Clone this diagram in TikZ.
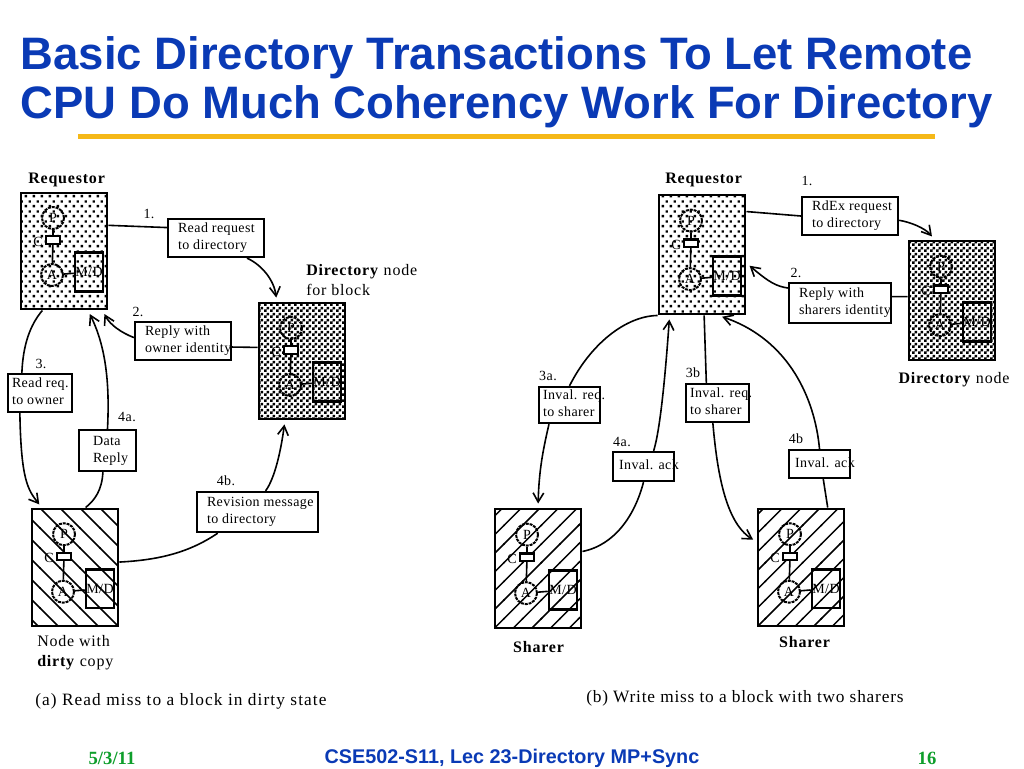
\documentclass[tikz,border=0pt]{standalone}
\usepackage{fontspec}
\setmainfont[LetterSpace=3]{Liberation Serif}
\newfontfamily\titlefont{Liberation Sans}
\newfontfamily\footfont{Liberation Serif}
\usepackage{xcolor}
\usetikzlibrary{
  arrows.meta,
  patterns
}
\definecolor{slideBlue}{HTML}{0A3AB5}
\definecolor{slideGold}{HTML}{F5B818}
\definecolor{slideGreen}{HTML}{0E9E2B}

% block fills
\pgfdeclarepatternformonly{blockdots}{\pgfqpoint{0pt}{0pt}}{\pgfqpoint{6.2pt}{7.5pt}}{\pgfqpoint{6.2pt}{7.5pt}}{
  \pgfpathrectangle{\pgfqpoint{0.6pt}{0.6pt}}{\pgfqpoint{1.9pt}{1.9pt}}
  \pgfpathrectangle{\pgfqpoint{3.7pt}{4.35pt}}{\pgfqpoint{1.9pt}{1.9pt}}
  \pgfusepath{fill}
}
\pgfdeclarepatternformonly{blockcheck}{\pgfqpoint{0pt}{0pt}}{\pgfqpoint{4.5pt}{4.5pt}}{\pgfqpoint{4.5pt}{4.5pt}}{
  \pgfpathrectangle{\pgfqpoint{0pt}{0pt}}{\pgfqpoint{2.25pt}{2.25pt}}
  \pgfpathrectangle{\pgfqpoint{2.25pt}{2.25pt}}{\pgfqpoint{2.25pt}{2.25pt}}
  \pgfusepath{fill}
}
\pgfdeclarepatternformonly{blockne}{\pgfqpoint{-1pt}{-1pt}}{\pgfqpoint{15pt}{15pt}}{\pgfqpoint{14pt}{14pt}}{
  \pgfsetlinewidth{1.1pt}
  \pgfpathmoveto{\pgfqpoint{-0.5pt}{-0.5pt}}
  \pgfpathlineto{\pgfqpoint{14.5pt}{14.5pt}}
  \pgfusepath{stroke}
}
\pgfdeclarepatternformonly{blocknw}{\pgfqpoint{-1pt}{-1pt}}{\pgfqpoint{16pt}{16pt}}{\pgfqpoint{15pt}{15pt}}{
  \pgfsetlinewidth{1.1pt}
  \pgfpathmoveto{\pgfqpoint{-0.5pt}{15.5pt}}
  \pgfpathlineto{\pgfqpoint{15.5pt}{-0.5pt}}
  \pgfusepath{stroke}
}

\newcommand{\msgfont}{\fontsize{10.5}{12.7}\selectfont}
\tikzset{
  blockframe/.style={draw, line width=2.2pt, minimum width=64.5pt, inner sep=0pt},
  cpucircle/.style={draw, circle, dash pattern=on 2.2pt off 0.7pt, line width=1.5pt, minimum size=16.5pt, inner sep=0pt, font=\fontsize{10.5}{10.5}\selectfont},
  cachebox/.style={draw, line width=1.6pt, fill=white, minimum width=10.5pt, minimum height=5.5pt, inner sep=0pt},
  membox/.style={draw, line width=1.9pt, minimum width=21pt, minimum height=29pt, inner sep=0pt, font=\fontsize{10.5}{10.5}\selectfont},
  partlink/.style={line width=1.2pt},
  msgbox/.style={draw, line width=1.7pt, fill=white, inner sep=0pt, font=\msgfont},
  steplabel/.style={font=\msgfont},
  capfont/.style={font=\fontsize{12}{15}\selectfont\addfontfeature{LetterSpace=5}},
  msgline/.style={line width=1.2pt},
  msgarrow/.style={line width=1.2pt, shorten >=3pt, -{Straight Barb[length=2.4mm,width=2.8mm]}}
}
\newcommand{\msgnode}[7]{% name, left, top, right, bottom, pad, text
  \node[msgbox, minimum width={(#4-#2)*0.75pt}, minimum height={(#5-#3)*0.75pt}] (#1) at ({(#2+#4)/2},{(#3+#5)/2})
    {\makebox[\dimexpr(#4pt-#2pt)*3/4\relax][l]{\hspace*{\dimexpr#6pt*3/4\relax}\begin{tabular}{@{}l@{}}#7\end{tabular}}};
}

\begin{document}
\begin{tikzpicture}[x=0.75pt,y=-0.75pt]
  \useasboundingbox (0,0) rectangle (1024,768);

  % title
  \node[anchor=base west, inner sep=0pt, text=slideBlue, font=\titlefont\bfseries\fontsize{34.1}{36}\selectfont] (titleA) at (20.5,69.5) {Basic Directory Transactions To Let Remote};
  \node[anchor=base west, inner sep=0pt, text=slideBlue, font=\titlefont\bfseries\fontsize{34.1}{36}\selectfont] (titleB) at (20.5,118) {CPU Do Much Coherency Work For Directory};
  \fill[slideGold] (78,134) rectangle (935,139);

  % processor blocks
  \foreach \id/\x/\y/\h/\pat in {
    reqA/21/193/116/blockdots,
    dirA/259/303/116/blockcheck,
    dirty/32/509/117/blocknw,
    reqB/659/195/119/blockdots,
    dirB/909/241/119/blockcheck,
    shareA/495/509/119/blockne,
    shareB/758/509/117/blockne}{
    \begin{scope}[shift={(\x,\y)}, yscale=\h/116]
      \node[blockframe, minimum height=\h*0.75pt, pattern=\pat] (\id) at (43,58) {};
      \node[cpucircle] (\id P) at (32,25) {P};
      \node[cachebox] (\id C) at (32,47) {};
      \node[cpucircle] (\id A) at (31,82) {A};
      \node[membox] (\id M) at (68,79) {M/D};
      \node[font=\fontsize{10.5}{10.5}\selectfont] (\id L) at (17,49) {C};
      \draw[partlink] (\id P) -- (\id C);
      \draw[partlink] (\id C) -- (\id A);
      \draw[partlink] (\id A) -- (\id M);
    \end{scope}
  }

  % block captions
  \node[capfont] (capReqA) at (67,180) {\textbf{Requestor}};
  \node[capfont, anchor=north west, align=left, inner sep=0pt] (capDirA) at (306,264) {\textbf{Directory} node\\for block};
  \node[capfont, anchor=north west, align=left, inner sep=0pt] (capDirty) at (37,635) {Node with\\\textbf{dirty} copy};
  \node[capfont] (capReqB) at (704,180) {\textbf{Requestor}};
  \node[capfont] (capDirB) at (954,380) {\textbf{Directory} node};
  \node[capfont] (capShareA) at (539,647) {\textbf{Sharer}};
  \node[capfont] (capShareB) at (805,642) {\textbf{Sharer}};
  \node[anchor=west, inner sep=0pt, font=\fontsize{13}{15}\selectfont\addfontfeature{LetterSpace=6.2}] (capLeft) at (35,701) {(a) Read miss to a block in dirty state};
  \node[anchor=west, inner sep=0pt, font=\fontsize{13}{15}\selectfont\addfontfeature{LetterSpace=4.6}] (capRight) at (586,698) {(b) Write miss to a block with two sharers};

  % message boxes, left
  \msgnode{rdReq}{168}{219}{264}{257}{10}{Read request\\to directory}
  \msgnode{replyOwner}{135}{322}{231}{360}{10}{Reply with\\owner identity}
  \msgnode{rdOwner}{8}{374}{72}{412}{4}{Read req.\\to owner}
  \msgnode{dataReply}{79}{430}{136}{471}{14}{Data\\Reply}
  \msgnode{revMsg}{197}{492}{318}{532}{10}{Revision message\\to directory}
  % message boxes, right
  \msgnode{rdEx}{802}{197}{898}{235}{10}{RdEx request\\to directory}
  \msgnode{replyShare}{789}{283}{891}{323}{10}{Reply with\\sharers identity}
  \msgnode{invReqA}{539}{387}{600}{423}{4}{Inval. req.\\to sharer}
  \msgnode{invReqB}{686}{384}{749}{422}{4}{Inval. req.\\to sharer}
  \msgnode{invAckA}{613}{452}{674}{481}{6}{Inval. ack}
  \msgnode{invAckB}{789}{450}{850}{478}{6}{Inval. ack}

  % step numbers
  \foreach \id/\x/\y/\txt in {
    stepA/149/214/1.,
    stepB/138/312/2.,
    stepC/41/364/3.,
    stepD/127/417/4a.,
    stepE/226/481/4b.,
    stepF/807/181/1.,
    stepG/796/273/2.,
    stepH/548/376/3a.,
    stepI/693/373/3b,
    stepJ/622/442/4a.,
    stepK/796/439/4b}{
    \node[steplabel] (\id) at (\x,\y) {\txt};
  }

  % read miss, left
  \draw[msgline] (reqA.30) -- (rdReq.168);
  \draw[msgarrow] (rdReq.-33) .. controls (262,265) and (274,280) .. (dirA.113);
  \draw[msgline] (dirA.163) -- (replyOwner.-7);
  \draw[msgarrow] (replyOwner.176) .. controls (122,333) and (110,325) .. (reqA.-57);
  \draw[msgline] (reqA.-110) .. controls (30,325) and (23,345) .. (rdOwner.132);
  \draw[msgarrow] (rdOwner.-135) .. controls (21,480) and (28,490) .. (dirty.119);
  \draw[msgarrow] (dataReply.90) .. controls (110,380) and (105,345) .. (reqA.-68);
  \draw[msgline] (dataReply.-102) .. controls (102,490) and (95,500) .. (dirty.80);
  \draw[msgline] (dirty.7) .. controls (160,560) and (190,552) .. (revMsg.-152);
  \draw[msgarrow] (revMsg.69) .. controls (275,478) and (281,450) .. (dirA.-106);

  % write miss, right
  \draw[msgline] (reqB.44) -- (rdEx.west);
  \draw[msgarrow] (rdEx.-5) .. controls (910,222) and (925,228) .. (dirB.106);
  \draw[msgline] (dirB.175) -- (replyShare.7);
  \draw[msgarrow] (replyShare.164) .. controls (776,286) and (770,283) .. (reqB.-11);
  \draw[msgline] (reqB.-126) .. controls (625,316) and (590,345) .. (invReqA.north);
  \draw[msgarrow] (invReqA.-137) .. controls (543,450) and (539,470) .. (shareA.north);
  \draw[msgline] (shareA.21) .. controls (615,545) and (635,515) .. (invAckA.-90);
  \draw[msgarrow] (invAckA.57) .. controls (660,430) and (665,380) .. (reqB.-118);
  \draw[msgline] (reqB.-88) -- (invReqB.119);
  \draw[msgarrow] (invReqB.-103) .. controls (717,470) and (725,522) .. (shareB.150);
  \draw[msgline] (shareB.66) -- (invAckB.-76);
  \draw[msgarrow] (invAckB.90) .. controls (815,400) and (790,340) .. (reqB.-75);

  % footer
  \node[text=slideGreen, font=\footfont\bfseries\fontsize{14}{15}\selectfont] (footDate) at (112,758) {5/3/11};
  \node[text=slideBlue, font=\titlefont\bfseries\fontsize{14.85}{15}\selectfont] (footMid) at (512,758) {CSE502-S11, Lec 23-Directory MP+Sync};
  \node[text=slideGreen, font=\footfont\bfseries\fontsize{14}{15}\selectfont] (footPage) at (927,758) {16};
\end{tikzpicture}
\end{document}
